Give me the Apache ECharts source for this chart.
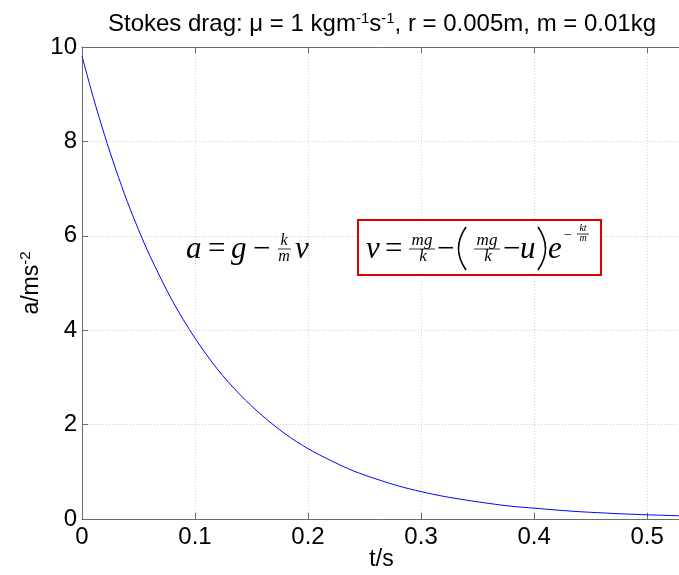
<!DOCTYPE html>
<html>
<head>
<meta charset="utf-8">
<script src="https://cdn.jsdelivr.net/npm/echarts@6/dist/echarts.min.js"></script>
<style>html,body{margin:0;padding:0;background:#fff;}#c{width:679px;height:575px;}</style>
</head>
<body>
<div id="c"></div>
<script>
// time values (s) and acceleration values (m/s^2)
var tValues = [0, 0.01, 0.02, 0.03, 0.04, 0.05, 0.06, 0.08, 0.10, 0.12, 0.14, 0.16, 0.18, 0.20, 0.22, 0.24, 0.26, 0.28, 0.30, 0.32, 0.34, 0.36, 0.38, 0.40, 0.42, 0.44, 0.46, 0.48, 0.50, 0.53];
var aValues = [9.81, 8.93, 8.13, 7.40, 6.73, 6.13, 5.58, 4.62, 3.83, 3.17, 2.63, 2.18, 1.80, 1.49, 1.24, 1.02, 0.85, 0.70, 0.58, 0.48, 0.40, 0.33, 0.27, 0.23, 0.19, 0.155, 0.13, 0.107, 0.089, 0.067];
var xTicks = [0, 0.1, 0.2, 0.3, 0.4, 0.5];
var yTicks = [0, 2, 4, 6, 8, 10];

var chart = echarts.init(document.getElementById('c'));
var axisCol = '#6b6b6b';
var labelFont = 'Liberation Sans, Arial, sans-serif';
var serif = 'Liberation Serif, Times New Roman, serif';
var data = tValues.map(function (t, i) { return [t, aValues[i]]; });

// place text by its baseline B
var dy = 4;
function txt(x, B, s, size, opts) {
  opts = opts || {};
  return {
    type: 'text', x: x, y: B + dy - 0.34 * size, z: 100,
    style: {
      text: s, font: (opts.italic === false ? '' : 'italic ') + size + 'px ' + serif,
      fill: '#000', align: opts.align || 'left', verticalAlign: 'middle'
    }
  };
}
function bar(x1, x2, y) {
  return { type: 'line', z: 100, shape: { x1: x1, y1: y + dy, x2: x2, y2: y + dy }, style: { stroke: '#000', lineWidth: 0.8 } };
}
function paren(xEnd, xCtrl, yTop, yBot) {
  return { type: 'bezierCurve', z: 100,
    shape: { x1: xEnd, y1: yTop, x2: xEnd, y2: yBot, cpx1: xCtrl, cpy1: (yTop + yBot) / 2 },
    style: { fill: null, stroke: '#000', lineWidth: 1.6 } };
}

var graphics = [
  // equation 1
  txt(186, 256, 'a', 31),
  txt(208, 256, '=', 31, { italic: false }),
  txt(231, 256, 'g', 31),
  txt(253, 256, '\u2212', 31, { italic: false }),
  txt(284, 242, 'k', 16, { align: 'center' }),
  bar(278, 291, 245),
  txt(284, 258, 'm', 16, { align: 'center' }),
  txt(295, 256, 'v', 31),
  // equation 2 box
  { type: 'rect', z: 99, shape: { x: 358, y: 220, width: 243, height: 55 }, style: { fill: '#fff', stroke: '#e00000', lineWidth: 2 } },
  txt(366, 256, 'v', 31),
  txt(385, 256, '=', 31, { italic: false }),
  txt(422, 242, 'mg', 17, { align: 'center' }),
  bar(409, 435, 245),
  txt(423, 258, 'k', 17, { align: 'center' }),
  txt(437, 256, '\u2212', 31, { italic: false }),
  paren(466, 451, 227, 270),
  txt(487, 242, 'mg', 17, { align: 'center' }),
  bar(474, 500, 245),
  txt(488, 258, 'k', 17, { align: 'center' }),
  txt(503, 256, '\u2212', 31, { italic: false }),
  txt(520, 256, 'u', 31),
  paren(538, 553, 227, 270),
  txt(548, 256, 'e', 31),
  txt(564, 236, '\u2212', 14, { italic: false }),
  txt(583, 228, 'kt', 10, { align: 'center' }),
  bar(577, 589, 230),
  txt(583, 238, 'm', 10, { align: 'center' })
];

var option = {
  backgroundColor: '#fff',
  animation: false,
  title: {
    text: 'Stokes drag: \u03bc = 1 kgm{sup|-1}s{sup|-1}, r = 0.005m, m = 0.01kg',
    left: 377, top: 6, textAlign: 'center',
    textStyle: {
      fontFamily: labelFont, fontSize: 24, fontWeight: 'normal', color: '#000',
      rich: { sup: { fontFamily: labelFont, fontSize: 15, verticalAlign: 'top', padding: [0, 0, 12, 0], color: '#000' } }
    }
  },
  grid: { left: 82, top: 47, width: 599, height: 472, containLabel: false, outerBoundsMode: 'none' },
  xAxis: [{
    type: 'value', min: 0, max: 0.53, interval: 0.1,
    name: 't/s', nameLocation: 'middle', nameGap: 29, nameMoveOverlap: false,
    nameTextStyle: { fontFamily: labelFont, fontSize: 23, color: '#000' },
    axisLine: { show: true, onZero: false, lineStyle: { color: axisCol, width: 1 } },
    axisTick: { show: true, inside: true, length: 6, lineStyle: { color: axisCol } },
    axisLabel: {
      fontFamily: labelFont, fontSize: 24, color: '#000', margin: 6,
      showMaxLabel: false,
      formatter: function (v) { var r = Math.round(v * 10) / 10; return xTicks.indexOf(r) >= 0 ? String(r) : ''; }
    },
    splitLine: { show: true, lineStyle: { color: '#d0d0d0', type: [1, 2], width: 1 } }
  }, {
    type: 'value', min: 0, max: 0.53, interval: 0.1, position: 'top',
    axisLine: { show: true, onZero: false, lineStyle: { color: axisCol, width: 1 } },
    axisTick: { show: true, inside: true, length: 6, lineStyle: { color: axisCol } },
    axisLabel: { show: false }, splitLine: { show: false }
  }],
  yAxis: [{
    type: 'value', min: 0, max: 10, interval: 2,
    name: 'a/ms{sup|-2}', nameLocation: 'middle', nameGap: 37, nameRotate: 90, nameMoveOverlap: false,
    nameTextStyle: {
      fontFamily: labelFont, fontSize: 23, color: '#000',
      rich: { sup: { fontFamily: labelFont, fontSize: 15, verticalAlign: 'top', padding: [0, 0, 12, 0], color: '#000' } }
    },
    axisLine: { show: true, onZero: false, lineStyle: { color: axisCol, width: 1 } },
    axisTick: { show: true, inside: true, length: 6, lineStyle: { color: axisCol } },
    axisLabel: { fontFamily: labelFont, fontSize: 24, color: '#000', margin: 5 },
    splitLine: { show: true, lineStyle: { color: '#d0d0d0', type: [1, 2], width: 1 } }
  }],
  series: [{
    type: 'line', xAxisIndex: 0, yAxisIndex: 0,
    data: data, smooth: 0.3, showSymbol: false, symbol: 'none',
    lineStyle: { color: '#0000ff', width: 1 }
  }],
  graphic: graphics
};
chart.setOption(option);
</script>
</body>
</html>
